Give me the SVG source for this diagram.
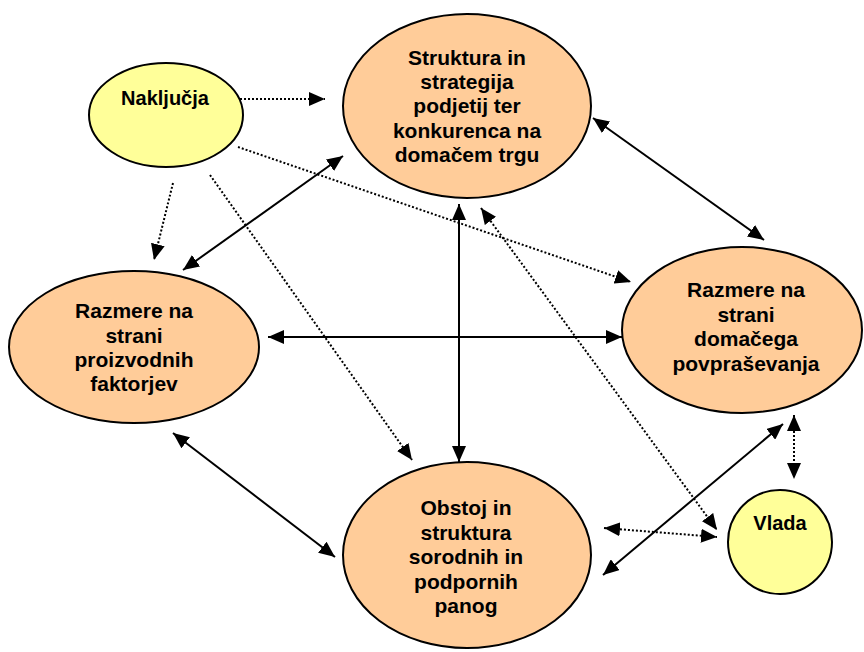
<svg xmlns="http://www.w3.org/2000/svg" width="864" height="652" viewBox="0 0 864 652">
<style>
.o{fill:#FFCC99;stroke:#000;stroke-width:2}
.y{fill:#FFFF99;stroke:#000;stroke-width:2}
.t{font-family:"Liberation Sans",Arial,sans-serif;font-weight:bold;font-size:21px;text-anchor:middle;fill:#000}
.ty{font-size:20px}
.s{stroke:#000;stroke-width:2;fill:none}
.d{stroke:#000;stroke-width:2;stroke-dasharray:2 2;fill:none}
</style>
<defs>
<marker id="a" markerUnits="userSpaceOnUse" markerWidth="16" markerHeight="14" refX="16" refY="7" orient="auto-start-reverse" viewBox="0 0 16 14">
<path d="M0,0 L16,7 L0,14 z" fill="#000"/>
</marker>
</defs>
<rect width="864" height="652" fill="#fff"/>
<g id="n-nakljucja"><ellipse class="y" cx="166" cy="115" rx="77" ry="52"/><text class="t ty" x="165" y="105">Naključja</text></g>
<g id="n-struktura"><ellipse class="o" cx="467" cy="106" rx="124" ry="92"/>
<text class="t" x="467" y="65">Struktura in</text>
<text class="t" x="467" y="89">strategija</text>
<text class="t" x="467" y="113">podjetij ter</text>
<text class="t" x="467" y="138">konkurenca na</text>
<text class="t" x="467" y="162">domačem trgu</text></g>
<g id="n-proizvodnih"><ellipse class="o" cx="134" cy="347" rx="125" ry="76"/>
<text class="t" x="134" y="318">Razmere na</text>
<text class="t" x="134" y="343">strani</text>
<text class="t" x="134" y="367">proizvodnih</text>
<text class="t" x="134" y="391">faktorjev</text></g>
<g id="n-domacega"><ellipse class="o" cx="742" cy="330" rx="120" ry="83"/>
<text class="t" x="746" y="297">Razmere na</text>
<text class="t" x="746" y="322">strani</text>
<text class="t" x="746" y="346">domačega</text>
<text class="t" x="746" y="371">povpraševanja</text></g>
<g id="n-obstoj"><ellipse class="o" cx="467" cy="555" rx="124" ry="93"/>
<text class="t" x="466" y="515">Obstoj in</text>
<text class="t" x="466" y="540">struktura</text>
<text class="t" x="466" y="564">sorodnih in</text>
<text class="t" x="466" y="589">podpornih</text>
<text class="t" x="466" y="613">panog</text></g>
<g id="n-vlada"><ellipse class="y" cx="780" cy="542" rx="52" ry="52"/><text class="t ty" x="780" y="530">Vlada</text></g>
<g id="connectors">
<line class="d" x1="240" y1="99" x2="325" y2="99" marker-end="url(#a)"/>
<line class="d" x1="238" y1="147" x2="631" y2="282" marker-end="url(#a)"/>
<line class="d" x1="173" y1="183" x2="154" y2="260" marker-end="url(#a)"/>
<line class="d" x1="210" y1="175" x2="412" y2="460" marker-end="url(#a)"/>
<line class="s" x1="343" y1="156" x2="183" y2="270" marker-start="url(#a)" marker-end="url(#a)"/>
<line class="s" x1="593" y1="118" x2="764" y2="240" marker-start="url(#a)" marker-end="url(#a)"/>
<line class="s" x1="459" y1="204" x2="459" y2="462" marker-start="url(#a)" marker-end="url(#a)"/>
<line class="s" x1="268" y1="337" x2="622" y2="337" marker-start="url(#a)" marker-end="url(#a)"/>
<line class="s" x1="173" y1="433" x2="335" y2="557" marker-start="url(#a)" marker-end="url(#a)"/>
<line class="s" x1="603" y1="575" x2="783" y2="424" marker-start="url(#a)" marker-end="url(#a)"/>
<line class="d" x1="794" y1="415" x2="794" y2="479" marker-start="url(#a)" marker-end="url(#a)"/>
<line class="d" x1="604" y1="528" x2="717" y2="537" marker-start="url(#a)" marker-end="url(#a)"/>
<line class="d" x1="481" y1="208" x2="717" y2="530" marker-start="url(#a)" marker-end="url(#a)"/>
</g>
</svg>
